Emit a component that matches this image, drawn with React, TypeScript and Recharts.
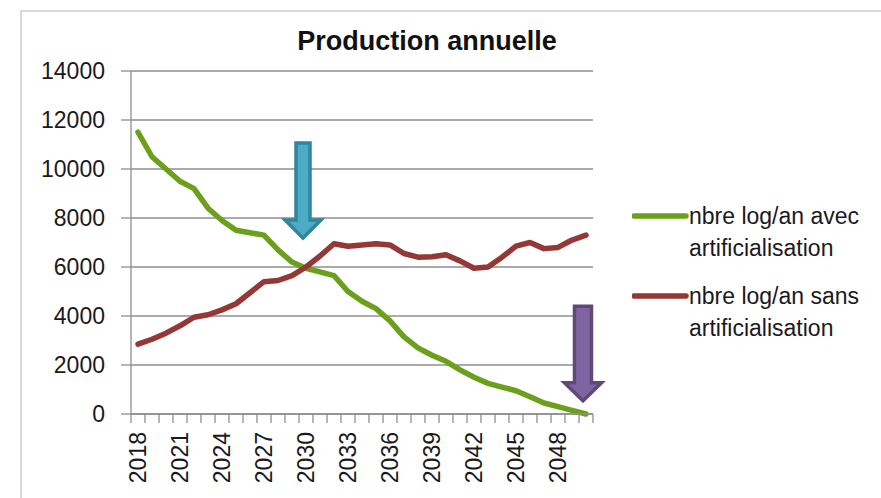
import React from 'react';
import { LineChart, Line, XAxis, YAxis, CartesianGrid, ReferenceLine, Legend } from 'recharts';

const years = [
  '2018', '2019', '2020', '2021', '2022', '2023', '2024', '2025', '2026', '2027', '2028',
  '2029', '2030', '2031', '2032', '2033', '2034', '2035', '2036', '2037', '2038', '2039',
  '2040', '2041', '2042', '2043', '2044', '2045', '2046', '2047', '2048', '2049', '2050',
];

const avecArtificialisation = [
  11500, 10500, 10000, 9500, 9200, 8400, 7900, 7500, 7400, 7300, 6700,
  6200, 5950, 5800, 5650, 5000, 4600, 4300, 3800, 3150, 2700, 2400,
  2150, 1800, 1500, 1250, 1100, 950, 700, 450, 300, 150, 0,
];

const sansArtificialisation = [
  2850, 3050, 3300, 3600, 3950, 4050, 4250, 4500, 4950, 5400, 5450,
  5650, 6000, 6450, 6950, 6850, 6900, 6950, 6900, 6550, 6400, 6420,
  6500, 6250, 5950, 6000, 6400, 6850, 7000, 6750, 6800, 7100, 7300,
];

const yTicks = [0, 2000, 4000, 6000, 8000, 10000, 12000, 14000];

const seriesNames = [
  ['nbre log/an avec', 'artificialisation'],
  ['nbre log/an sans', 'artificialisation'],
];

const title = 'Production annuelle';

// arrow annotations: year, top value, tip value
const arrowYears = ['2030', '2050'];
const arrowTops = [11060, 4400];
const arrowTips = [7180, 540];

const GREEN = '#6c9f1c';
const RED = '#953735';
const GRID = '#8e8e8e';
const FONT = '"Liberation Sans", Arial, sans-serif';
const HALF_STEP = 7;

const data = years.map((year, i) => ({
  year,
  avec: avecArtificialisation[i],
  sans: sansArtificialisation[i],
}));

const arrowStyles = [
  { fill: '#4bacc6', stroke: '#31859c', shaft: 14, head: 36, headH: 18, dx: -3 },
  { fill: '#8064a2', stroke: '#5f497a', shaft: 17, head: 37, headH: 18, dx: -3 },
];

const makeArrow = (style: any) => (props: any) => {
  const { x1, y1, x2, y2 } = props;
  const cx = (x1 + x2) / 2 + style.dx;
  const top = Math.min(y1, y2);
  const tip = Math.max(y1, y2);
  const s = style.shaft / 2;
  const h = style.head / 2;
  const hb = tip - style.headH;
  const pts = [
    [cx - s, top], [cx + s, top], [cx + s, hb], [cx + h, hb],
    [cx, tip], [cx - h, hb], [cx - s, hb],
  ].map((p) => p.join(',')).join(' ');
  return (
    <polygon points={pts} fill={style.fill} stroke={style.stroke} strokeWidth={3.5} strokeLinejoin="miter" />
  );
};

const XTick = (props: any) => {
  const { x, y, payload, index } = props;
  const last = index === years.length - 1;
  return (
    <g>
      <line x1={x - HALF_STEP} y1={y} x2={x - HALF_STEP} y2={y + 9} stroke={GRID} strokeWidth={1.3} />
      {last && <line x1={x + HALF_STEP} y1={y} x2={x + HALF_STEP} y2={y + 9} stroke={GRID} strokeWidth={1.3} />}
      {index % 3 === 0 && (
        <text
          x={x}
          y={y + 18}
          transform={`rotate(-90, ${x}, ${y + 18})`}
          textAnchor="end"
          dominantBaseline="central"
          fontFamily={FONT}
          fontSize={23}
          fill="#1a1a1a"
        >
          {payload.value}
        </text>
      )}
    </g>
  );
};

const LegendContent = () => {
  const colors = [GREEN, RED];
  return (
    <div style={{ fontFamily: FONT, fontSize: 23, color: '#1a1a1a' }}>
      {seriesNames.map((lines, i) => (
        <div key={i} style={{ display: 'flex', alignItems: 'flex-start', marginBottom: 16 }}>
          <svg width={57} height={32} style={{ flex: 'none' }}>
            <line x1={2} y1={16} x2={54} y2={16} stroke={colors[i]} strokeWidth={5.5} strokeLinecap="round" />
          </svg>
          <div style={{ lineHeight: '32px', whiteSpace: 'nowrap' }}>
            {lines.map((t, j) => (
              <div key={j}>{t}</div>
            ))}
          </div>
        </div>
      ))}
    </div>
  );
};

export default function App() {
  return (
    <div style={{ position: 'absolute', left: 0, top: 0, width: 881, height: 498, overflow: 'hidden', background: '#fff' }}>
      <div
        style={{
          position: 'absolute', left: 20, top: 10, width: 861, height: 488,
          borderLeft: '2px solid #d9d9d9', borderTop: '2px solid #d9d9d9', boxSizing: 'border-box',
        }}
      />
      <div
        style={{
          position: 'absolute', left: 227, top: 21, width: 400, textAlign: 'center',
          fontFamily: FONT, fontWeight: 'bold', fontSize: 27, lineHeight: '40px', color: '#111',
        }}
      >
        {title}
      </div>
      <div style={{ position: 'absolute', left: 0, top: 0 }}>
        <LineChart width={881} height={498} data={data} margin={{ top: 71, right: 288, bottom: 0, left: 0 }}>
          <CartesianGrid vertical={false} stroke={GRID} strokeWidth={1.3} />
          <XAxis
            dataKey="year"
            type="category"
            interval={0}
            padding={{ left: HALF_STEP, right: HALF_STEP }}
            height={84}
            tickLine={false}
            tickSize={0}
            tickMargin={0}
            axisLine={{ stroke: GRID, strokeWidth: 1.3 }}
            tick={(p: any) => <XTick {...p} />}
          />
          <YAxis
            width={131}
            domain={[0, 14000]}
            ticks={yTicks}
            interval={0}
            tickSize={10}
            tickMargin={16}
            axisLine={{ stroke: GRID, strokeWidth: 1.3 }}
            tickLine={{ stroke: GRID, strokeWidth: 1.3 }}
            tick={{ fontFamily: FONT, fontSize: 23, fill: '#1a1a1a' }}
          />
          <Legend
            layout="horizontal"
            verticalAlign="middle"
            align="center"
            content={() => <LegendContent />}
            wrapperStyle={{ left: 632, top: 200, width: 249 }}
          />
          <Line
            type="linear"
            dataKey="avec"
            name={seriesNames[0].join(' ')}
            stroke={GREEN}
            strokeWidth={5.5}
            dot={false}
            strokeLinejoin="round"
            strokeLinecap="round"
            isAnimationActive={false}
          />
          <Line
            type="linear"
            dataKey="sans"
            name={seriesNames[1].join(' ')}
            stroke={RED}
            strokeWidth={5.5}
            dot={false}
            strokeLinejoin="round"
            strokeLinecap="round"
            isAnimationActive={false}
          />
          {arrowYears.map((yr, i) => (
            <ReferenceLine
              key={yr}
              segment={[{ x: yr, y: arrowTops[i] }, { x: yr, y: arrowTips[i] }]}
              shape={makeArrow(arrowStyles[i])}
            />
          ))}
        </LineChart>
      </div>
    </div>
  );
}
